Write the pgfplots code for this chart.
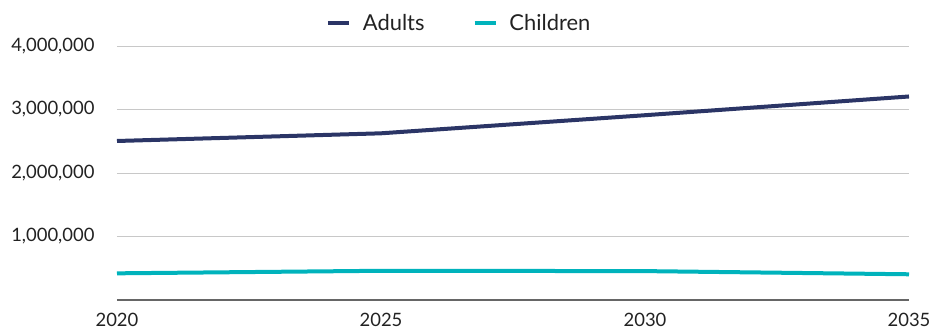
\documentclass[border=0pt]{standalone}
\usepackage{fontspec}
\setmainfont{Lato}
\usepackage{pgfplots}
\pgfplotsset{compat=1.18}
\definecolor{navy}{HTML}{2B3566}
\definecolor{teal}{HTML}{00B3BC}
\definecolor{gridc}{HTML}{C8C8C8}
\definecolor{axisc}{HTML}{666666}
\definecolor{txt}{HTML}{222222}
\begin{document}
\begin{tikzpicture}
\begin{axis}[
  scale only axis,
  width=792bp, height=254bp,
  xmin=2020, xmax=2035, ymin=0, ymax=4000000,
  xtick={2020,2025,2030,2035},
  ytick={1000000,2000000,3000000,4000000},
  scaled y ticks=false,
  /pgf/number format/assume math mode=true,
  xticklabel style={/pgf/number format/1000 sep={}},
  yticklabel style={/pgf/number format/.cd, fixed, 1000 sep={,}},
  tick label style={font=\fontsize{18.5}{22}\selectfont, text=txt},
  ymajorgrids, grid style={gridc, line width=1bp},
  major tick length=0pt,
  axis line style={draw=none},
  axis x line*=bottom, axis y line*=left,
  yticklabel shift=19bp,
  xticklabel shift=10bp,
  clip=false,
  legend columns=2,
  legend style={at={(0.432,1.09)}, anchor=center, draw=none, fill=none,
    font=\fontsize{22}{25}\selectfont, text=txt,
    nodes={font=\fontsize{22}{25}\selectfont, text=txt},
    /tikz/every odd column/.append style={column sep=10bp},
    /tikz/every even column/.append style={column sep=46bp}},
  legend image code/.code={\draw[#1] (0bp,0bp) -- (21bp,0bp);},
]
\draw[axisc, line width=2bp] (axis cs:2020,0) -- (axis cs:2035,0);
\addplot[navy, line width=4bp] coordinates {(2020,2504000) (2025,2625000) (2030,2910000) (2035,3205000)};
\addlegendentry{Adults}
\addplot[teal, line width=4bp] coordinates {(2020,420000) (2025,460000) (2030,455000) (2035,405000)};
\addlegendentry{Children}
\end{axis}
\pgfresetboundingbox
\path ([shift={(-117bp,-29bp)}]current axis.south west) rectangle ([shift={(20bp,46bp)}]current axis.north east);
\end{tikzpicture}
\end{document}
